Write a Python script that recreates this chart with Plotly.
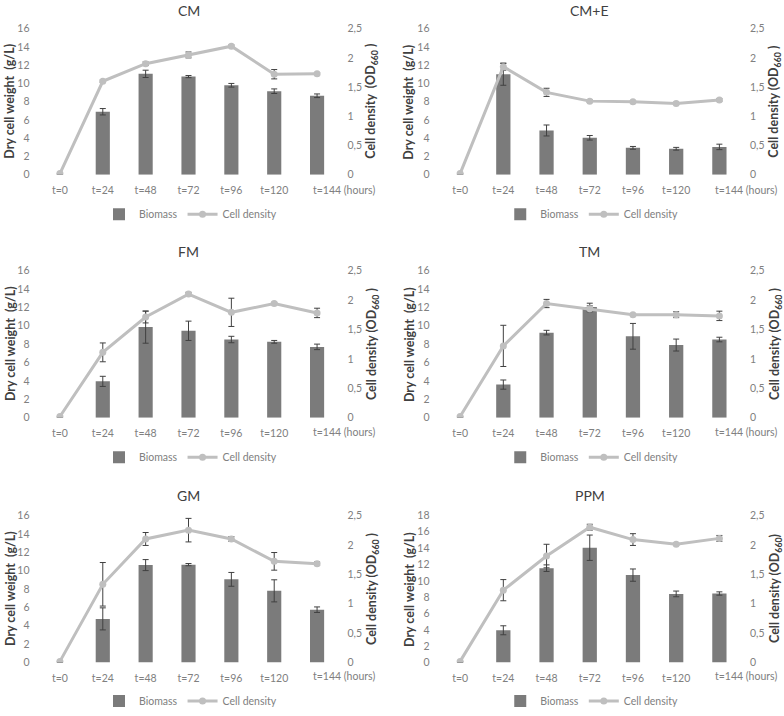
import plotly.graph_objects as go

times = ["t=0", "t=24", "t=48", "t=72", "t=96", "t=120", "t=144"]
panel_names = ["CM", "CM+E", "FM", "TM", "GM", "PPM"]

cm_biomass = [0, 6.9, 11.05, 10.75, 9.8, 9.15, 8.65]
cm_biomass_err = [0, 0.35, 0.4, 0.12, 0.2, 0.25, 0.2]
cm_density = [0.02, 1.60, 1.90, 2.05, 2.20, 1.72, 1.73]
cm_density_err = [0, 0.02, 0.03, 0.05, 0.02, 0.08, 0.02]

cme_biomass = [0, 11.0, 4.85, 4.05, 2.95, 2.85, 3.05]
cme_biomass_err = [0, 1.2, 0.6, 0.25, 0.15, 0.15, 0.3]
cme_density = [0.02, 1.85, 1.41, 1.26, 1.25, 1.22, 1.28]
cme_density_err = [0, 0.06, 0.07, 0.02, 0.02, 0.02, 0.02]

fm_biomass = [0, 3.95, 9.85, 9.45, 8.5, 8.25, 7.7]
fm_biomass_err = [0, 0.55, 1.75, 1.05, 0.35, 0.15, 0.3]
fm_density = [0.02, 1.11, 1.71, 2.10, 1.79, 1.94, 1.78]
fm_density_err = [0, 0.16, 0.1, 0.03, 0.24, 0.02, 0.08]

tm_biomass = [0, 3.6, 9.25, 12.05, 8.85, 7.9, 8.5]
tm_biomass_err = [0, 0.5, 0.25, 0.4, 1.4, 0.65, 0.25]
tm_density = [0.02, 1.22, 1.94, 1.85, 1.75, 1.75, 1.73]
tm_density_err = [0, 0.35, 0.07, 0.05, 0.02, 0.05, 0.08]

gm_biomass = [0, 4.75, 10.6, 10.65, 9.05, 7.8, 5.75]
gm_biomass_err = [0, 1.2, 0.6, 0.12, 0.75, 1.2, 0.3]
gm_density = [0.02, 1.33, 2.10, 2.25, 2.10, 1.72, 1.68]
gm_density_err = [0, 0.37, 0.11, 0.2, 0.04, 0.15, 0.03]

ppm_biomass = [0, 3.95, 11.55, 14.05, 10.7, 8.4, 8.45]
ppm_biomass_err = [0, 0.55, 0.4, 1.55, 0.75, 0.35, 0.2]
ppm_density = [0.02, 1.23, 1.81, 2.30, 2.09, 2.01, 2.11]
ppm_density_err = [0, 0.18, 0.2, 0.05, 0.1, 0.02, 0.05]

left_max = [16, 16, 16, 16, 16, 18]
left_title = "Dry cell weight  (g/L)"
right_titles = [
    "Cell density  (OD<sub>660</sub> )",
    "Cell density (OD<sub>660</sub> )",
    "Cell density (OD<sub>660</sub> )",
    "Cell density (OD<sub>660</sub> )",
    "Cell density (OD<sub>660</sub> )",
    "Cell density (OD<sub>660</sub>)",
]
time_unit = "(hours)"

panels = [
    (cm_biomass, cm_biomass_err, cm_density, cm_density_err),
    (cme_biomass, cme_biomass_err, cme_density, cme_density_err),
    (fm_biomass, fm_biomass_err, fm_density, fm_density_err),
    (tm_biomass, tm_biomass_err, tm_density, tm_density_err),
    (gm_biomass, gm_biomass_err, gm_density, gm_density_err),
    (ppm_biomass, ppm_biomass_err, ppm_density, ppm_density_err),
]

W, H = 784, 716
FONT = "Lato, 'Open Sans', sans-serif"
BAR_C = "#7b7b7b"
LINE_C = "#bfbfbf"
ERR_C = "#404040"
TICK_C = "#808080"
TITLE_C = "#404040"

x_doms = [(38.5 / W, 338.5 / W), (438.5 / W, 741 / W)]
y_doms = [
    (1 - 177 / H, 1 - 29 / H),
    (1 - 423 / H, 1 - 274 / H),
    (1 - 671 / H, 1 - 522 / H),
]
title_top = [1.0, 1 - 244 / H, 1 - 491 / H]
legend_y = [1 - 217 / H, 1 - 463 / H, 1 - 710 / H]
xlabel_y = [1 - 192 / H, 1 - 438 / H, 1 - 685 / H]
ltitle_x = [10 / W, 409 / W]
rtitle_x = [372 / W, 775 / W]

fig = go.Figure()
layout = dict(
    width=W, height=H, autosize=False,
    margin=dict(l=0, r=0, t=0, b=0),
    paper_bgcolor="white", plot_bgcolor="white",
    font=dict(family=FONT, color=TICK_C, size=10.5),
    separators=",.",
    bargap=0.67,
    annotations=[],
)

for i, (bio, bio_e, den, den_e) in enumerate(panels):
    row, col = divmod(i, 2)
    xa = f"x{i + 1}"
    yl = f"y{2 * i + 1}"
    yr = f"y{2 * i + 2}"
    leg = "legend" if i == 0 else f"legend{i + 1}"
    fig.add_trace(go.Bar(
        x=times, y=bio, name="Biomass", xaxis=xa, yaxis=yl,
        marker=dict(color=BAR_C, line=dict(width=0)),
        error_y=dict(type="data", array=bio_e, color=ERR_C, thickness=1, width=3),
        legend=leg, showlegend=True,
    ))
    fig.add_trace(go.Scatter(
        x=times, y=den, name="Cell density", xaxis=xa, yaxis=yr,
        mode="lines+markers",
        line=dict(color=LINE_C, width=3),
        marker=dict(color=LINE_C, size=7),
        error_y=dict(type="data", array=den_e, color=ERR_C, thickness=1, width=3),
        legend=leg, showlegend=True,
    ))
    xd = x_doms[col]
    yd = y_doms[row]
    xkey = "xaxis" if i == 0 else f"xaxis{i + 1}"
    ylkey = f"yaxis{2 * i + 1}" if i > 0 else "yaxis"
    yrkey = f"yaxis{2 * i + 2}"
    layout[xkey] = dict(
        domain=list(xd), anchor=yl, type="category",
        range=[-0.5, 6.5], showgrid=False, zeroline=False, showline=False,
        tickmode="array", tickvals=times[:-1], ticktext=times[:-1],
        ticks="", ticklabelstandoff=8, automargin=False,
        tickfont=dict(size=10.5, color=TICK_C),
    )
    layout[ylkey] = dict(
        domain=list(yd), anchor=xa, range=[0, left_max[i]], dtick=2,
        showgrid=False, zeroline=False, showline=False, ticks="",
        ticklabelstandoff=8, automargin=False,
        tickfont=dict(size=10.5, color=TICK_C),
    )
    layout[yrkey] = dict(
        domain=list(yd), anchor=xa, overlaying=yl, side="right",
        range=[0, 2.5], dtick=0.5,
        showgrid=False, zeroline=False, showline=False, ticks="",
        ticklabelstandoff=8, automargin=False,
        tickfont=dict(size=10.5, color=TICK_C),
    )
    layout[leg] = dict(
        orientation="h", x=(xd[0] + xd[1]) / 2 + 2 / W, xanchor="center",
        y=legend_y[row], yanchor="middle",
        bgcolor="rgba(0,0,0,0)", font=dict(size=10.5, color=TICK_C),
        itemwidth=30, tracegroupgap=0,
    )
    ymid = (yd[0] + yd[1]) / 2
    layout["annotations"].append(dict(
        text=panel_names[i], xref="paper", yref="paper",
        x=(xd[0] + xd[1]) / 2, y=title_top[row], xanchor="center", yanchor="top",
        showarrow=False, font=dict(size=14, color=TITLE_C, family=FONT),
    ))
    layout["annotations"].append(dict(
        text=left_title, xref="paper", yref="paper", textangle=-90,
        x=ltitle_x[col], y=ymid, xanchor="center", yanchor="middle",
        showarrow=False,
        font=dict(size=12.5, color=TITLE_C, family=FONT, weight="bold"),
    ))
    layout["annotations"].append(dict(
        text=right_titles[i], xref="paper", yref="paper", textangle=-90,
        x=rtitle_x[col], y=ymid, xanchor="center", yanchor="middle",
        showarrow=False,
        font=dict(size=12.5, color=TITLE_C, family=FONT, weight="bold"),
    ))
    layout["annotations"].append(dict(
        text=f"{times[-1]} {time_unit}", xref=xa, yref="paper",
        x=times[-1], y=xlabel_y[row], xanchor="left", yanchor="middle",
        xshift=-6, showarrow=False, font=dict(size=10.5, color=TICK_C, family=FONT),
    ))

fig.update_layout(**layout)
fig.write_html(
    "out.html",
    config={"displayModeBar": False, "staticPlot": True},
    post_script="document.body.style.margin='0px';",
)
